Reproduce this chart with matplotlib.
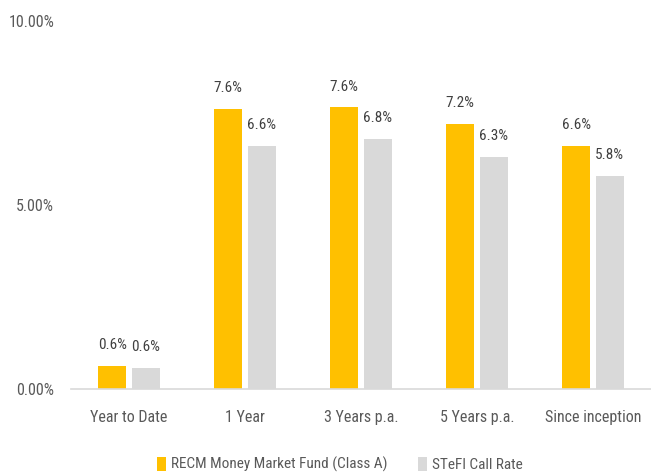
import matplotlib
matplotlib.use("Agg")
import matplotlib.pyplot as plt

plt.rcParams["font.family"] = ["Roboto Condensed", "Liberation Sans Narrow", "Liberation Sans", "DejaVu Sans"]

categories = ["Year to Date", "1 Year", "3 Years p.a.", "5 Years p.a.", "Since inception"]
fund = [0.62, 7.6, 7.65, 7.2, 6.6]
stefi = [0.58, 6.6, 6.8, 6.3, 5.8]
fund_labels = ["0.6%", "7.6%", "7.6%", "7.2%", "6.6%"]
stefi_labels = ["0.6%", "6.6%", "6.8%", "6.3%", "5.8%"]
yticks = [0, 5, 10]
ytick_labels = ["0.00%", "5.00%", "10.00%"]

fig = plt.figure(figsize=(6.51, 4.73), dpi=100)
ax = fig.add_axes([0.109, 0.1776, 0.891, 0.778])

x = list(range(len(categories)))
w = 0.24
b1 = ax.bar([i - 0.145 for i in x], fund, w, color="#FFC000", label="RECM Money Market Fund (Class A)")
b2 = ax.bar([i + 0.145 for i in x], stefi, w, color="#D9D9D9", label="STeFI Call Rate")
ax.bar_label(b1, labels=fund_labels, padding=10, fontsize=11, color="#404040")
ax.bar_label(b2, labels=stefi_labels, padding=10, fontsize=11, color="#404040")

ax.set_xlim(-0.5, 4.5)
ax.set_ylim(0, 10)
ax.set_yticks(yticks)
ax.set_yticklabels(ytick_labels)
ax.set_xticks(x)
ax.set_xticklabels(categories)
ax.tick_params(axis="both", length=0, labelsize=11.5, colors="#595959")
ax.tick_params(axis="x", pad=15)
ax.tick_params(axis="y", pad=12)
for s in ["top", "right", "left"]:
    ax.spines[s].set_visible(False)
ax.spines["bottom"].set_color("#D9D9D9")
ax.spines["bottom"].set_linewidth(1.2)

fig.legend(loc="lower center", bbox_to_anchor=(0.522, -0.028), ncol=2, frameon=False,
           fontsize=11, handlelength=0.6, handleheight=1.0, handletextpad=0.3, columnspacing=2.0,
           labelcolor="#595959")

fig.savefig("out.png", dpi=100)
